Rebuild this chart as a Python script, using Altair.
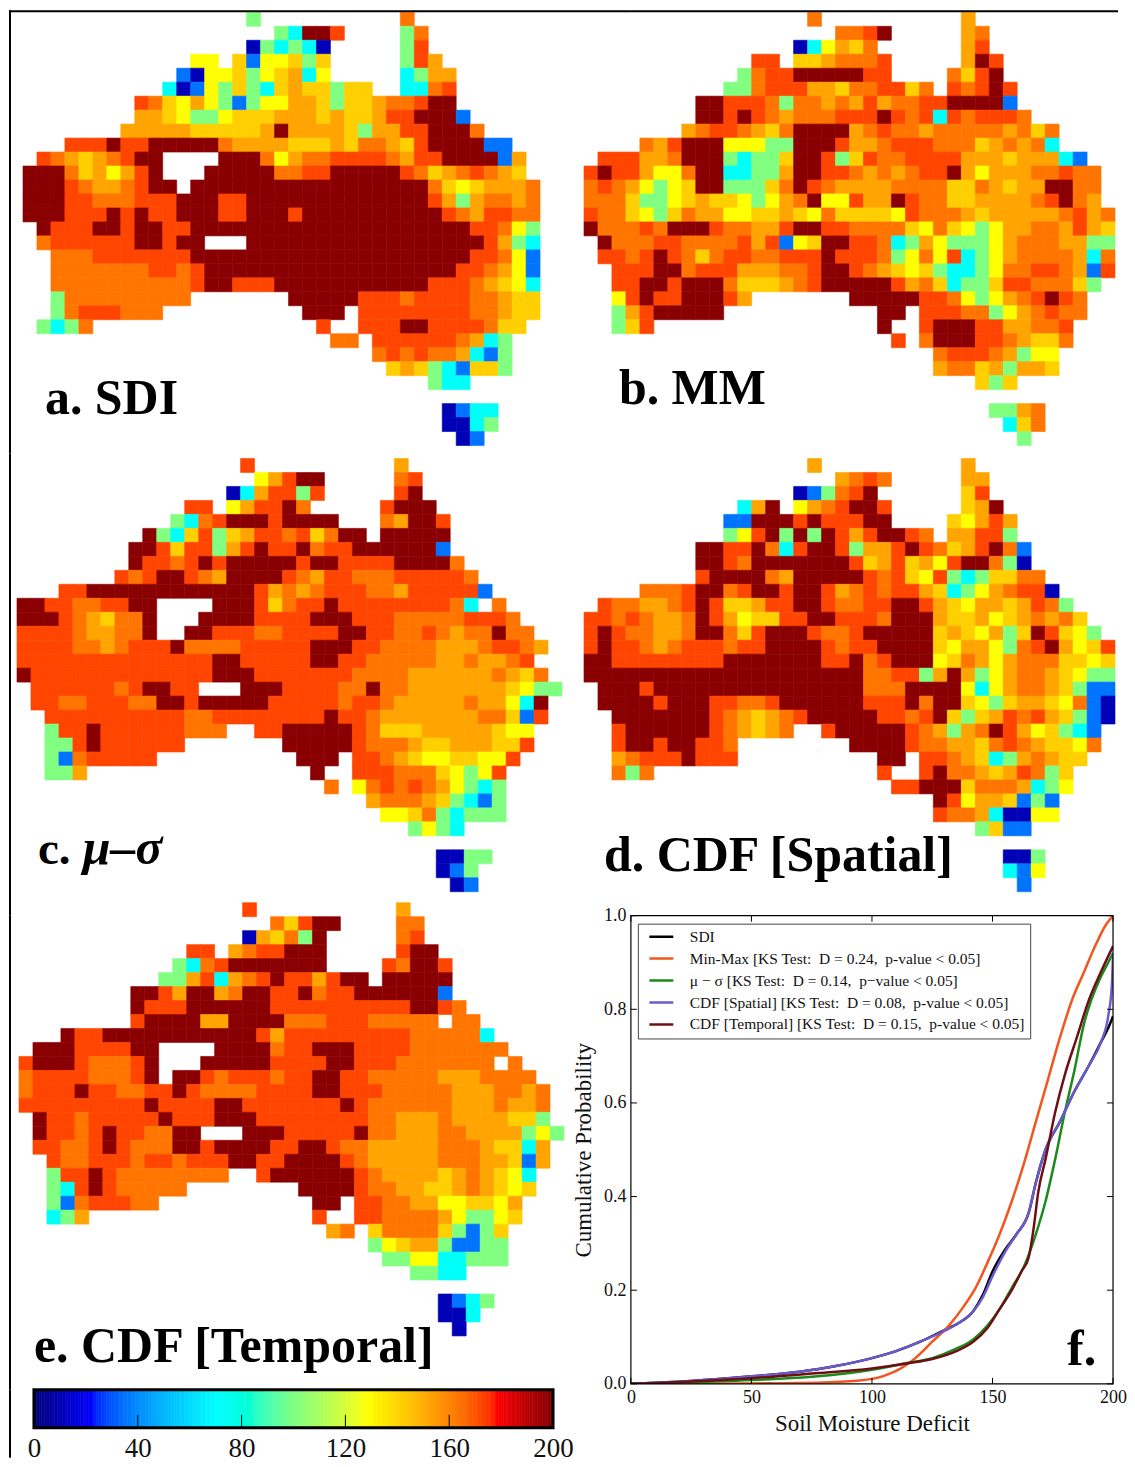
import altair as alt
import pandas as pd

# ---------- map values: each row is "startcol:codes startcol:codes" ----------
CODE_VALUES = {"0": 10, "1": 35, "2": 72, "3": 100, "4": 128, "5": 141, "6": 152, "7": 163, "8": 172, "9": 198}

MAP_A = [
"16:3 27:7", "18:32998 27:37", "16:032320 27:38", "12:44 15:5144535 27:386", "11:10445345624 27:2366",
"10:201435325655355 27:2278", "8:87546431344665355677899", "8:665433455566656556889991",
"7:66666555556966665366889997", "3:88898899999766665556577658999911",
"1:876567899 14:9997467788887688999916", "0:9997564689 13:99999778899999875678765",
"0:99987667899 12:9999999999999999975456667", "0:99988777888999889999999999999 29:86367767",
"0:99988898988999889 17:998 19:99999999999 30:8768877", "1:988899899889 13:9999999999999999999 32:88743",
"1:788888899899 16:99999999999999999 33:8632", "2:77788888889 13:9999999999999999999 32:88741",
"2:77777778878 13:999999999999999999 31:887641", "2:7777777777 12:899888 18:99999999999 29:88876542",
"2:3777777777 19:999998887888877655 ", "2:37888777 20:999 24:8888888877655",
"1:3237 21:8 24:888998888755", "22:77 25:8888887623", "25:7878776213", "26:565321553", "29:322", "",
"30:0122", "30:0023", "31:01"]

MAP_B = [
"16:7 27:6", "18:7789 27:67", "15:024657 27:68", "12:88 15:5567778 27:698", "11:37889999988 26:7589",
"10:337888665778857 26:87898", "8:99888737767686778899 28:991", "8:998987677788898782878887 ",
"7:678876579999678776777776757 33:7", "4:768999444339998667888777567672 33:1",
"1:888667999 10:32335998358778888666566621 34:7", "0:89886447992233699887676788964666778 35:77",
"0:7876434599333579876666777755765669977", "0:77753345655434679448 20:669877 26:55666678976",
"0:877543576644556547 18:55554 21:798777656666678 35:567", "0:97778799987766 14:899887777547 24:655 27:4346677686 35:655",
"1:97778877778681 14:8 15:4599887 22:236433346777663 37:3", "1:88789875 9:788778 15:889888 21:734748 25:53234677776 36:27",
"2:888997888666 14:778 16:89 18:987654 24:5322347 31:7887618", "2:889989997555 14:678 17:9 18:99998675233588777 35:53",
"2:4898899986 19:99999887 27:434678987", "2:36899999 21:99 24:88877 29:346787 35:7",
"2:358 21:9 24:89998866 32:778", "22:8 24:79998876557", "25:788876344", "25:67756366 33:5",
"28:535", "", "29:3367", "30:257", "31:3"]

MAP_C = [
"16:8 27:6", "17:46899 27:78", "15:0268 19:838 27:89", "12:88 15:468 18:8 19:97 26:8999",
"11:327899989 20:999 26:76998", "9:932 12:58356 17:887 20:85 22:799 26:99999",
"8:9985 12:8 13:8 14:368 17:988 20:97 22:8 23:8 24:9 25:999 28:991",
"8:98 10:87 12:8 13:9 14:8 15:99999 20:8 21:99 23:88 25:88 27:999 30:97",
"7:87 9:8 10:99 12:8 13:76 15:9999 19:876 22:88 24:777 27:88888 32:7",
"3:88999999999 14:9 15:9 16:9 17:86767 22:888776 28:88888 33:1",
"0:9988778899 14:99985 19:788 22:98888888872 34:7", "0:9998765779 13:99998888 21:999888777 30:7788 34:8 35:7",
"0:8888766779 12:9988 16:8778888 23:99887 28:78767797 36:7 ",
"0:88887767888 11:97777888889 22:99 24:88777766 32:6788 36:76", "0:8888888888888899888 19:8899887777 29:76676 34:678",
"0:98888888888888 14:99988888887777 28:666666 34:7657", "1:88888878998 12:8 16:999888877977666666 34:6 35:5433",
"1:8877888779 11:9 12:8 13:99999 18:888887887 26:7666667 33:66 35:429",
"2:8888888888 12:7788888888 22:98 24:876666666 33:77 35:518",
"2:38898888887 13:77 17:889999987 25:65556666 33:6 34:544", "2:3389888888 19:99999877 26:7765 30:5666 34:558",
"2:31788888 20:999 24:88765 29:4455 33:448", "2:336 21:9 24:8887775 31:4 32:348",
"22:7 24:4787 28:87 30:64323", "25:67776 30:53213", "26:4457323 33:33", "28:3432", "", "30:0033", "30:013", "31:01"]

MAP_D = [
"16:6 27:6", "18:6787 27:66", "15:0137 19:89 27:58", "11:269 15:467 18:899 21:8 27:569",
"10:11999898 18:8899 26:54686", "10:3489 14:3 15:9 16:3 17:986 20:8998 24:7 26:66883",
"8:9988972 15:8998 19:3668987 26:5 27:6897 31:1", "8:998 11:79999999 19:856 22:8 23:564 26:89 28:9730",
"8:899997 14:6 15:99999 20:87 22:8 23:548 26:323557 32:7", "4:77789978 12:998 15:9986 19:78 21:7 22:88 24:652346 30:7880",
"1:877667898 10:5568 14:899 17:87 19:7889 23:9865 27:466 30:56873", "0:8878766798 10:6455889 17:98 19:8 20:8799 24:96556 29:456767 35:5",
"0:8987766799 10:75899 15:98778 20:999 23:9 24:9 25:56546 30:359 33:8 34:543",
"0:8988767888 10:78899 15:9987 19:88 21:9999 25:54664 30:3789 34:6458",
"0:9988888888 10:99999 15:99 17:889 20:7 21:899 24:9 25:4 26:57 28:6 29:467775 35:545",
"0:9999999999 10:99999999 18:99 20:7788 24:369 27:634 30:67765 35:433",
"1:99989999999 12:9999999 19:9 20:7779999 27:4246776 34:5311",
"1:9999899988 11:7789 15:99999 20:8889 24:799 27:543 30:56654 35:7 36:10",
"2:99999998765 13:6 14:789 16:99999 21:887 24:89 26:535 29:68 31:78 33:6 34:53 36:10",
"2:89999998 10:7 11:656 14:7 17:899999 23:8 24:7 25:63 27:6 28:79 30:864 33:5 34:321",
"2:899 5:8 6:99 8:887 19:99998 24:776 27:657 30:87 32:65547", "2:67888988 10:8 21:99 24:88765 29:2367 33:655",
"2:737 21:8 24:897765 30:687 33:35", "22:88 24:99957 29:77 31:6234", "25:984665 31:131", "25:87762 30:00 32:44",
"28:3511", "", "30:003", "30:214", "31:1"]

MAP_E = [
"16:8 27:6", "18:75899 27:77", "16:065739 27:78", "12:88 15:6788999 27:899", "11:3278999999 21:9 26:87998",
"10:33682 15:67898 20:86 22:899 26:99999", "8:99869967 15:899 18:8 19:8 20:97889 25:9 26:99991",
"8:98889999 16:998 19:888888888 28:9987", "8:8999966 15:9999 19:777888 25:77777 31:77",
"3:98899 8:9999999 14:8 15:9986 19:888888888 28:77777 33:2", "1:999888899 14:9999 18:788 21:99988887777777",
"0:8999877789 13:99999888 21:8 22:99888 27:7777777 35:7", "0:7888877789 11:9 12:98788 17:8 18:78899 23:88 25:77777 30:6667777",
"0:7888988778 10:8 11:987777 17:88 19:8 20:8 21:99888 26:77777 31:6 32:66 34:77 36:67",
"0:8888888889 10:8888 14:9988888889 24:877777 30:7666 34:7667", "1:988788888 10:98 12:8 13:8 14:999888 20:888 23:887766 29:6 30:76666 35:553",
"1:9887898877 11:99 16:999888 22:8 23:89 25:776 28:667 31:766 34:6 35:6 36:3 37:43",
"1:8877898777 11:99 13:8 14:9999 18:889 21:9877 25:66666 30:777 33:6 34:55 36:26",
"2:8778887887 12:8 13:88 15:99 17:88 19:9999 23:87 25:66666 30:7776 34:65 36:16",
"2:3889877777 12:777 17:8 18:999999 24:87 26:6666 30:5676 34:5 35:42",
"2:3289877777 20:99998 25:77 27:66 29:55 31:67 33:6 34:545", "2:31788877 21:99 24:88 26:77 28:66 30:44 32:55 34:46",
"2:236 21:8 24:8877 28:77 30:64 32:3345", "22:67 25:5777 29:7 30:53135", "25:3 26:4 27:5 28:66 30:31133", "26:3344 30:22 32:333",
"28:3322", "", "30:0123", "30:002", "31:0"]

# ---------- CDF curves ----------
SDI_X = [0, 25, 50, 70, 85, 100, 110, 120, 130, 136, 142, 146, 150, 155, 160, 165, 168, 172, 178, 184, 190, 195, 198, 200]
SDI_Y = [0, .006, .016, .026, .038, .055, .07, .09, .115, .13, .155, .19, .24, .285, .32, .365, .43, .50, .56, .625, .68, .73, .76, .785]
SPATIAL_X = [0, 25, 50, 70, 85, 100, 110, 120, 130, 136, 142, 146, 150, 155, 160, 165, 168, 172, 178, 184, 190, 195, 198, 199.5, 200]
SPATIAL_Y = [0, .006, .016, .026, .038, .055, .07, .09, .113, .13, .155, .185, .23, .28, .32, .365, .43, .50, .56, .625, .68, .73, .785, .85, .92]
MINMAX_X = [0, 50, 80, 95, 105, 112, 118, 125, 132, 138, 143, 148, 153, 158, 163, 168, 173, 178, 183, 188, 193, 197, 200]
MINMAX_Y = [0, .001, .003, .007, .017, .033, .055, .09, .125, .165, .205, .26, .32, .39, .47, .56, .65, .74, .82, .88, .94, .98, 1.0]
MUSIG_X = [0, 50, 75, 100, 115, 125, 135, 142, 148, 153, 158, 163, 168, 172, 176, 180, 184, 188, 191, 195, 198, 200]
MUSIG_Y = [0, .008, .015, .03, .045, .055, .075, .095, .125, .16, .205, .25, .32, .39, .48, .58, .67, .77, .82, .87, .90, .92]
TEMP_X = [0, 50, 75, 100, 115, 125, 135, 142, 148, 153, 158, 162, 165, 167, 169, 172, 176, 180, 185, 190, 195, 200]
TEMP_Y = [0, .012, .022, .033, .044, .053, .07, .09, .12, .16, .20, .24, .27, .33, .41, .48, .58, .66, .74, .82, .88, .935]

NB = "\u00a0"
SERIES = [
    ("SDI", SDI_X, SDI_Y, "#000000"),
    (f"Min-Max [KS Test:{NB}{NB}D = 0.24,{NB}{NB}p-value < 0.05]", MINMAX_X, MINMAX_Y, "#f0561e"),
    (f"\u03bc \u2212 \u03c3 [KS Test:{NB}{NB}D = 0.14,{NB}{NB}p\u2212value < 0.05]", MUSIG_X, MUSIG_Y, "#1b8a1b"),
    (f"CDF [Spatial] [KS Test:{NB}{NB}D = 0.08,{NB}{NB}p-value < 0.05]", SPATIAL_X, SPATIAL_Y, "#6a5acd"),
    (f"CDF [Temporal] [KS Test:{NB}{NB}D = 0.15,{NB}{NB}p-value < 0.05]", TEMP_X, TEMP_Y, "#6e0f14"),
]
X_TICKS = [0, 50, 100, 150, 200]
Y_TICKS = [0.0, 0.2, 0.4, 0.6, 0.8, 1.0]
CBAR_TICKS = [0, 40, 80, 120, 160, 200]
CBAR_VALUES = list(range(0, 200))
JET_DOMAIN = [0, 22, 70, 100, 128, 178, 200]
JET_RANGE = ["#00007f", "#0000ff", "#00ffff", "#80ff80", "#ffff00", "#ff0000", "#7f0000"]

SERIF = "Liberation Serif"
CELL = 14
LEFT_W, RIGHT_W = 623, 488
jet = alt.Scale(domain=JET_DOMAIN, range=JET_RANGE)
one = pd.DataFrame({"a": [0]})


def cells(rows):
    out = []
    for r, row in enumerate(rows):
        for seg in row.split():
            start, codes = seg.split(":")
            for i, ch in enumerate(codes):
                c = int(start) + i
                out.append({"c": c, "c2": c + 1, "r": r, "r2": r + 1, "v": CODE_VALUES[ch]})
    return pd.DataFrame(out).drop_duplicates(subset=["c", "r"], keep="first")


def frame(left=False, top=False, w=0, h=0):
    layers = []
    if left:
        layers.append(alt.Chart(one).mark_rule(color="black", strokeWidth=2).encode(
            x=alt.value(1), y=alt.value(0), y2=alt.value(h)))
    if top:
        layers.append(alt.Chart(one).mark_rule(color="black", strokeWidth=2).encode(
            y=alt.value(1), x=alt.value(0), x2=alt.value(w)))
    return layers


def label(text, x, y, size=50, style="normal"):
    return alt.Chart(one).mark_text(font=SERIF, fontWeight="bold", fontStyle=style, fontSize=size,
                                    align="left", baseline="alphabetic", color="black").encode(
        x=alt.value(x), y=alt.value(y), text=alt.value(text))


def map_panel(rows, x0, y0, pxleft, pytop, w, h, labels, left=False, top=False):
    xd = [(pxleft - x0) / CELL, (pxleft + w - x0) / CELL]
    yd = [(pytop - y0) / CELL, (pytop + h - y0) / CELL]
    base = alt.Chart(cells(rows)).mark_rect(strokeWidth=0.6).encode(
        x=alt.X("c:Q", axis=None, scale=alt.Scale(domain=xd, nice=False, zero=False)),
        x2="c2:Q",
        y=alt.Y("r:Q", axis=None, scale=alt.Scale(domain=yd, nice=False, zero=False, reverse=True)),
        y2="r2:Q",
        color=alt.Color("v:Q", scale=jet, legend=None),
        stroke=alt.Color("v:Q", scale=jet, legend=None),
    )
    return alt.layer(base, *labels, *frame(left, top, w, h)).properties(width=w, height=h)


ROW_H = [444, 463, 475]
a = map_panel(MAP_A, 22, 10, 8, 8, LEFT_W, ROW_H[0], [label("a. SDI", 36, 404)], left=True, top=True)
b = map_panel(MAP_B, 584, 10, 631, 8, RIGHT_W, ROW_H[0], [label("b. MM", -12, 394)], top=True)
c = map_panel(MAP_C, 16, 457, 8, 452, LEFT_W, ROW_H[1],
              [label("c.", 29, 411, 47), label("\u03bc\u2013\u03c3", 74, 411, 50, "italic")], left=True)
d = map_panel(MAP_D, 584, 457, 631, 452, RIGHT_W, ROW_H[1], [label("d. CDF [Spatial]", -27, 418)])
e = map_panel(MAP_E, 18, 902, 8, 915, LEFT_W, ROW_H[2], [label("e. CDF [Temporal]", 25, 447)], left=True)

# ---------- CDF panel ----------
F_W, F_H = 483, 469
long_rows = []
for name, xs, ys, _ in SERIES:
    long_rows += [{"s": name, "x": x, "y": y} for x, y in zip(xs, ys)]
line_df = pd.DataFrame(long_rows)
x_scale = alt.Scale(domain=[0, 200], nice=False)
y_scale = alt.Scale(domain=[0, 1], nice=False)
x_axis = alt.Axis(title="Soil Moisture Deficit", values=X_TICKS, format="d", grid=False, ticks=False, domain=False,
                  labelFont=SERIF, labelFontSize=18, labelColor="#111", labelPadding=5, labelFlush=False,
                  titleFont=SERIF, titleFontSize=23, titleFontWeight="normal", titleColor="#111", titlePadding=6)
y_axis = alt.Axis(title="Cumulative Probability", values=Y_TICKS, format=".1f", grid=False, ticks=False, domain=False,
                  labelFont=SERIF, labelFontSize=18, labelColor="#111", labelPadding=5, labelFlush=False,
                  titleFont=SERIF, titleFontSize=23, titleFontWeight="normal", titleColor="#111", titlePadding=8)
X = alt.X("x:Q", scale=x_scale, axis=x_axis)
Y = alt.Y("y:Q", scale=y_scale, axis=y_axis)
lines = alt.Chart(line_df).mark_line(strokeWidth=2.5, interpolate="monotone", clip=True).encode(
    x=X, y=Y,
    color=alt.Color("s:N", sort=[s[0] for s in SERIES],
                    scale=alt.Scale(domain=[s[0] for s in SERIES], range=[s[3] for s in SERIES]),
                    legend=alt.Legend(orient="none", legendX=7, legendY=8, title=None, symbolType="stroke",
                                      symbolSize=576, symbolStrokeWidth=2.5, labelFont=SERIF, labelFontSize=15.5,
                                      labelColor="#111", labelLimit=400, labelOffset=15, rowPadding=5,
                                      padding=5, fillColor="white", strokeColor="#444", clipHeight=16,
                                      symbolOffset=5)),
    detail="s:N",
)
xt = pd.DataFrame({"x": X_TICKS})
yt = pd.DataFrame({"y": Y_TICKS})
ticks = [
    alt.Chart(xt).mark_rule(color="black").encode(x=X, y=alt.value(F_H), y2=alt.value(F_H - 6)),
    alt.Chart(xt).mark_rule(color="black").encode(x=X, y=alt.value(0), y2=alt.value(6)),
    alt.Chart(yt).mark_rule(color="black").encode(y=Y, x=alt.value(0), x2=alt.value(6)),
    alt.Chart(yt).mark_rule(color="black").encode(y=Y, x=alt.value(F_W), x2=alt.value(F_W - 6)),
]
box = alt.Chart(one).mark_rect(fill=None, stroke="black", strokeWidth=1.2).encode(
    x=alt.value(0), x2=alt.value(F_W), y=alt.value(0), y2=alt.value(F_H))
f = alt.layer(lines, *ticks, box, label("f.", 437, 450)).properties(width=F_W, height=F_H)

# ---------- colour bar ----------
CB_H = 38
cb_scale = alt.Scale(domain=[-25 * 200 / 520, (LEFT_W - 25) * 200 / 520], nice=False, zero=False)
cb_axis = alt.Axis(title=None, values=CBAR_TICKS, format="d", grid=False, ticks=False, domain=False,
                   labelFont=SERIF, labelFontSize=27, labelColor="#111", labelPadding=8, labelFlush=False)
CBX = alt.X("v:Q", scale=cb_scale, axis=cb_axis)
cb_df = pd.DataFrame({"v": CBAR_VALUES})
cb_df["v2"] = cb_df["v"] + 1
bar = alt.Chart(cb_df).mark_rect(strokeWidth=0.6).encode(
    x=CBX, x2="v2:Q",
    color=alt.Color("v:Q", scale=jet, legend=None),
    stroke=alt.Color("v:Q", scale=jet, legend=None),
)
cb_ticks = alt.Chart(pd.DataFrame({"v": CBAR_TICKS[1:-1]})).mark_rule(color="black", strokeWidth=1).encode(
    x=CBX, y=alt.value(CB_H), y2=alt.value(CB_H - 13))
cb_box = alt.Chart(pd.DataFrame({"v": [0], "v2": [200]})).mark_rect(fill=None, stroke="black", strokeWidth=3).encode(
    x=CBX, x2="v2:Q", y=alt.value(0), y2=alt.value(CB_H))
cbar = alt.layer(bar, cb_ticks, cb_box, *frame(left=True, h=68)).properties(width=LEFT_W, height=CB_H)

chart = alt.concat(a, b, c, d, e, f, cbar, columns=2, spacing=0, bounds="flush").properties(padding=0).configure_view(stroke=None)

chart.save("out.html", embed_options={"renderer": "svg", "actions": False})
